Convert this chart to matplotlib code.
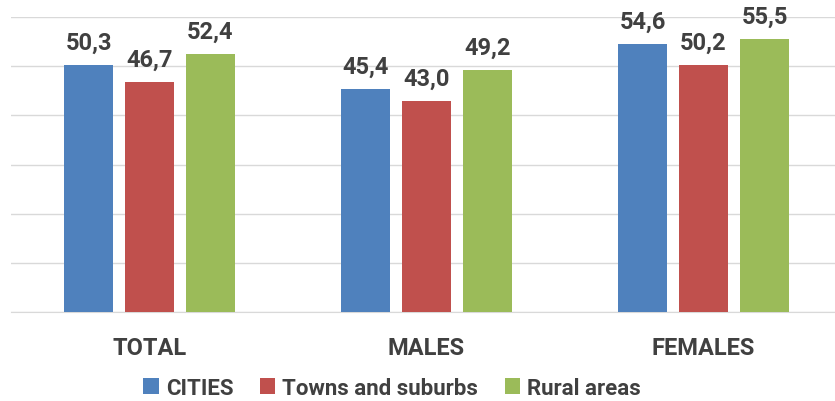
import numpy as np
import matplotlib.pyplot as plt

# Values
categories = ['TOTAL', 'MALES', 'FEMALES']
series_names = ['CITIES', 'Towns and suburbs', 'Rural areas']
cities = [50.3, 45.4, 54.6]
towns = [46.7, 43.0, 50.2]
rural = [52.4, 49.2, 55.5]

colors = ['#4F81BD', '#C0504D', '#9BBB59']
text_col = '#404040'

plt.rcParams['font.family'] = ['Roboto', 'DejaVu Sans']

fig = plt.figure(figsize=(8.35, 4.02), dpi=100)
ax = fig.add_axes([11 / 835, (402 - 313) / 402, 831 / 835, 295 / 402])

x = np.arange(len(categories))
width = 0.177
step = 0.22

for i, (vals, name) in enumerate(zip([cities, towns, rural], series_names)):
    pos = x + (i - 1) * step
    bars = ax.bar(pos, vals, width, color=colors[i], label=name, zorder=3)
    for b, v in zip(bars, vals):
        ax.annotate(f'{v:.1f}'.replace('.', ','),
                    (b.get_x() + b.get_width() / 2, v),
                    xytext=(0, 8), textcoords='offset points',
                    ha='center', va='bottom', fontsize=17,
                    fontweight='bold', color=text_col)

ax.set_xlim(-0.5, 2.5)
ax.set_ylim(0, 60)
ax.set_yticks(np.arange(0, 61, 10))
ax.yaxis.grid(True, color='#D9D9D9', linewidth=1, zorder=0)
ax.tick_params(axis='y', left=False, labelleft=False)
ax.tick_params(axis='x', bottom=False, pad=14)
ax.set_xticks(x)
ax.set_xticklabels(categories, fontsize=17, fontweight='bold', color=text_col)
for s in ['top', 'right', 'left']:
    ax.spines[s].set_visible(False)
ax.spines['bottom'].set_color('#D9D9D9')

leg = fig.legend(loc='center', bbox_to_anchor=(392 / 835, 1 - 389 / 402),
                 ncol=3, frameon=False, handlelength=0.7, handleheight=0.7,
                 handletextpad=0.3, columnspacing=1.2,
                 prop={'size': 16, 'weight': 'bold'})
for t in leg.get_texts():
    t.set_color(text_col)

fig.savefig('out.png', dpi=100)
